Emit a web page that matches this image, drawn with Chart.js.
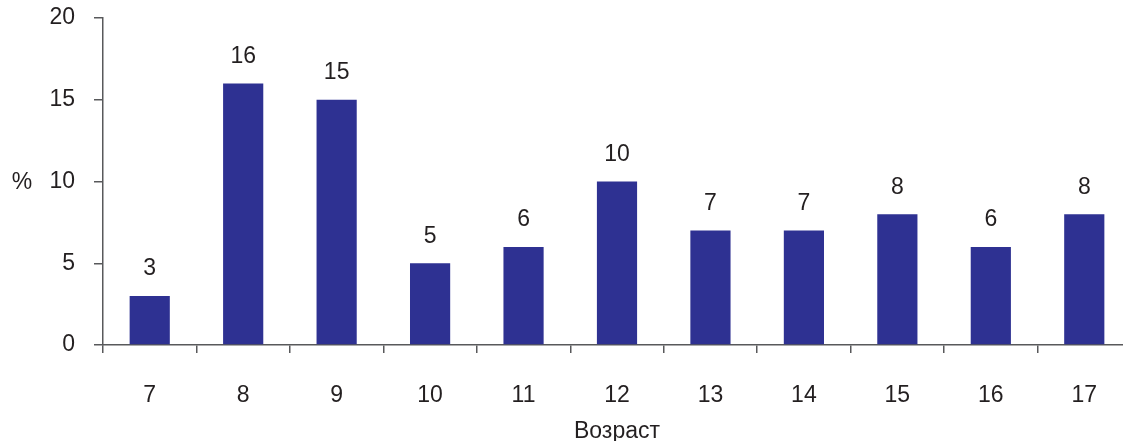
<!DOCTYPE html>
<html><head><meta charset="utf-8">
<script src="https://cdn.jsdelivr.net/npm/chart.js@4"></script>
<style>
html,body{margin:0;padding:0;background:#fff;overflow:hidden;width:1123px;height:441px}
#wrap{position:relative;width:1140px;height:441px}
</style></head>
<body><div id="wrap"><canvas id="c"></canvas></div>
<script>
const categories = ['7','8','9','10','11','12','13','14','15','16','17'];
const percentValues = [3,16,15,5,6,10,7,7,8,6,8];
const yTicks = [0,5,10,15,20];
const xTitle = 'Возраст';
const yTitle = '%';

const FONT = '"Liberation Sans", Arial, sans-serif';
const FS = 23;
const TEXT = '#231f20';
const AXIS = '#58595b';

const labelsPlugin = {
  id: 'labelsPlugin',
  afterDatasetsDraw(chart) {
    const ctx = chart.ctx;
    const meta = chart.getDatasetMeta(0);
    ctx.save();
    ctx.font = FS + 'px ' + FONT;
    ctx.fillStyle = TEXT;
    ctx.textAlign = 'center';
    ctx.textBaseline = 'middle';
    meta.data.forEach((bar, i) => {
      ctx.fillText(String(percentValues[i]), bar.x, bar.y - 27);
    });
    const ys = chart.scales.y;
    ctx.fillText(yTitle, 22, ys.getPixelForValue(10) + 1);
    ctx.restore();
  }
};

new Chart(document.getElementById('c'), {
  type: 'bar',
  data: {
    labels: categories,
    datasets: [{
      data: percentValues,
      backgroundColor: '#2e3192',
      barPercentage: 0.43,
      categoryPercentage: 1
    }]
  },
  options: {
    responsive: true,
    maintainAspectRatio: false,
    animation: false,
    events: [],
    layout: { padding: { top: 18, right: 9, left: 0, bottom: 0 } },
    plugins: { legend: { display: false }, tooltip: { enabled: false } },
    scales: {
      x: {
        offset: true,
        grid: { offset: true, drawOnChartArea: false, tickLength: 8, color: AXIS, lineWidth: 1.5 },
        border: { color: AXIS, width: 1.5 },
        ticks: { color: TEXT, font: { family: FONT, size: FS }, padding: 29, maxRotation: 0 },
        title: { display: true, text: xTitle, color: TEXT, font: { family: FONT, size: FS, lineHeight: 1 }, padding: { top: 0, bottom: -2 } },
        afterFit(s) { s.height = 96; s.paddingLeft = 0; s.paddingRight = 0; }
      },
      y: {
        min: 0, max: 20,
        afterBuildTicks(s) { s.ticks = yTicks.map(v => ({ value: v })); },
        grid: { drawOnChartArea: false, tickLength: 9, color: AXIS, lineWidth: 1.5 },
        border: { color: AXIS, width: 1.5 },
        ticks: { color: TEXT, font: { family: FONT, size: FS }, padding: 19 },
        afterFit(s) { s.width = 103; s.paddingTop = 0; s.paddingBottom = 0; }
      }
    }
  },
  plugins: [labelsPlugin]
});
</script></body></html>
